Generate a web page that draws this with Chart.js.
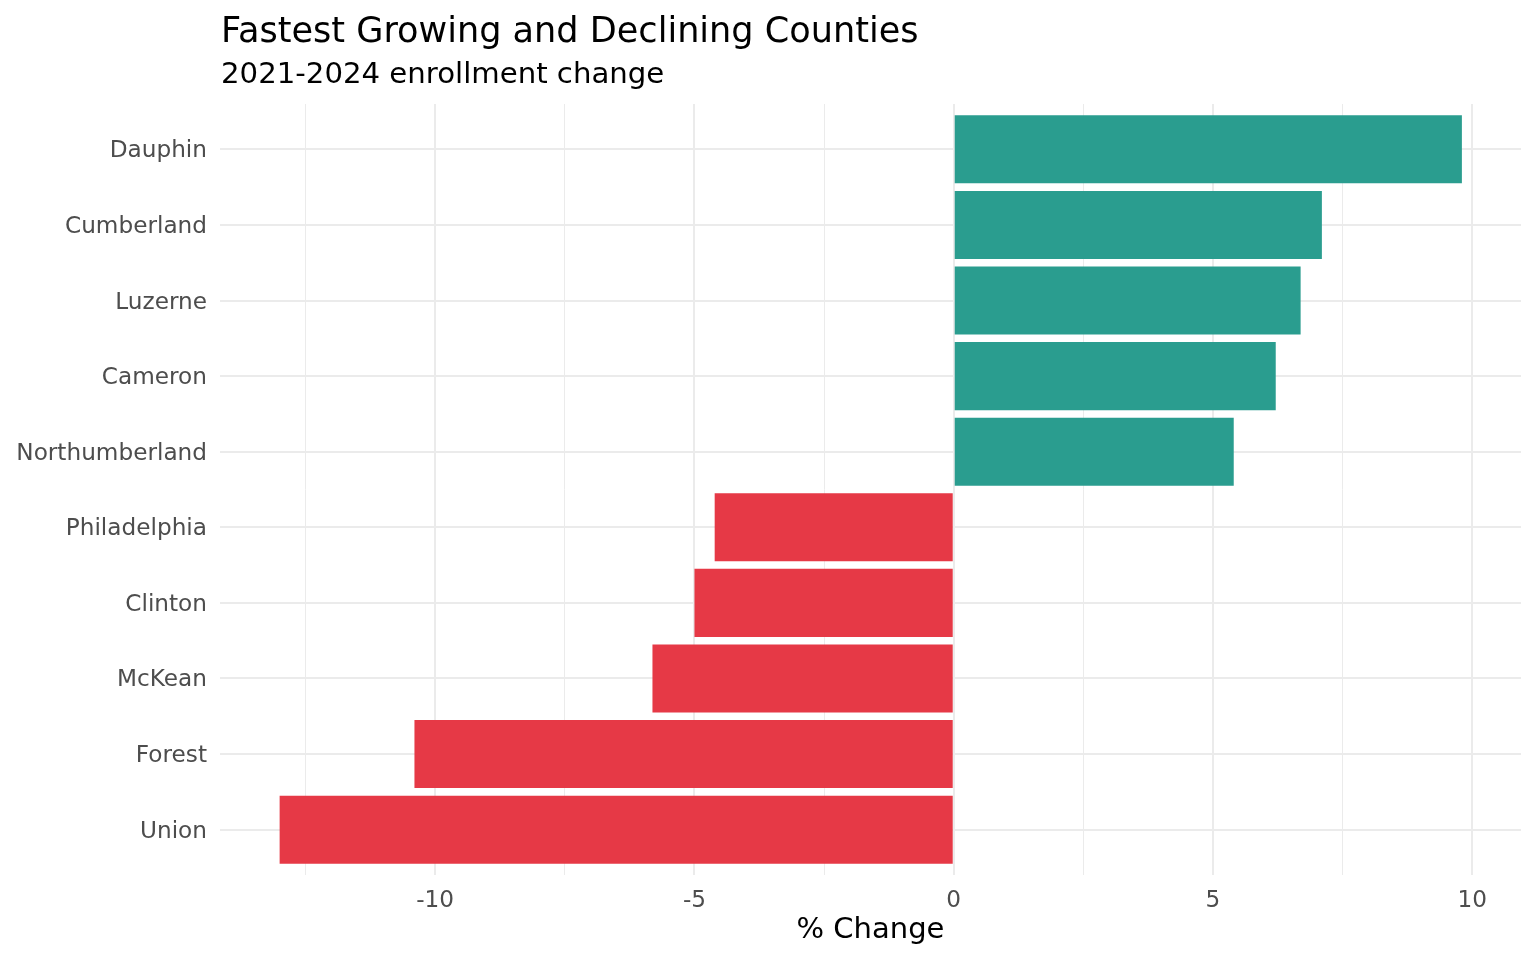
<!DOCTYPE html>
<html>
<head>
<meta charset="utf-8">
<script src="https://cdn.jsdelivr.net/npm/chart.js@4.4.1/dist/chart.umd.min.js"></script>
<style>
  html, body { margin: 0; padding: 0; background: #ffffff; }
  #wrap { width: 1536px; height: 960px; }
</style>
</head>
<body>
<div id="wrap"><canvas id="c" width="1536" height="960"></canvas></div>
<script>
// ---- data ----
const counties = ["Dauphin", "Cumberland", "Luzerne", "Cameron", "Northumberland",
                  "Philadelphia", "Clinton", "McKean", "Forest", "Union"];
const pctChange = [9.80, 7.10, 6.69, 6.21, 5.40, -4.61, -5.00, -5.81, -10.40, -13.00];
const xTickValues = [-12.5, -10, -7.5, -5, -2.5, 0, 2.5, 5, 7.5, 10];
const xLabelValues = [-10, -5, 0, 5, 10];
const titleText = "Fastest Growing and Declining Counties";
const subtitleText = "2021-2024 enrollment change";
const xAxisTitle = "% Change";

const FONT = "'DejaVu Sans', 'Noto Sans', sans-serif";
const GROW = "#2a9d8f", DECLINE = "#e63946", GRID = "#ebebeb";

const titlePlugin = {
  id: 'ggTitle',
  afterDraw(chart) {
    const ctx = chart.ctx, left = chart.chartArea.left;
    ctx.save();
    ctx.fillStyle = '#000000';
    ctx.textAlign = 'left';
    ctx.textBaseline = 'alphabetic';
    ctx.font = "35.1px " + FONT;
    ctx.fillText(titleText, left + 1, 42);
    ctx.font = "29.2px " + FONT;
    ctx.fillText(subtitleText, left + 1, 83);
    ctx.restore();
  }
};

new Chart(document.getElementById('c'), {
  type: 'bar',
  data: {
    datasets: [{
      data: counties.map((name, i) => ({ x: pctChange[i], y: i })),
      backgroundColor: pctChange.map(v => v >= 0 ? GROW : DECLINE),
      borderWidth: 0,
      barPercentage: 0.9,
      categoryPercentage: 1.0
    }]
  },
  options: {
    indexAxis: 'y',
    responsive: false,
    animation: false,
    devicePixelRatio: 1,
    layout: { padding: { left: 0, top: 104, right: 15, bottom: 0 } },
    plugins: { legend: { display: false }, tooltip: { enabled: false }, title: { display: false } },
    scales: {
      x: {
        type: 'linear',
        min: -14.15,
        max: 10.94,
        afterBuildTicks(scale) { scale.ticks = xTickValues.map(v => ({ value: v })); },
        afterFit(scale) { scale.height = 85; },
        border: { display: false },
        grid: {
          color: GRID,
          drawTicks: false,
          lineWidth: (c) => (c.tick && xLabelValues.includes(c.tick.value)) ? 2 : 1
        },
        ticks: {
          autoSkip: false,
          maxRotation: 0,
          padding: 12,
          color: '#4d4d4d',
          font: { family: FONT, size: 23.2 },
          callback: (v) => xLabelValues.includes(v) ? String(v) : ''
        },
        title: {
          display: true,
          text: xAxisTitle,
          color: '#000000',
          font: { family: FONT, size: 29 },
          padding: { top: 0, bottom: 12 }
        }
      },
      y: {
        type: 'linear',
        min: -0.6,
        max: 9.6,
        reverse: true,
        offset: false,
        afterBuildTicks(scale) { scale.ticks = counties.map((n, i) => ({ value: i })); },
        afterFit(scale) { scale.width = 220; },
        border: { display: false },
        grid: { color: GRID, drawTicks: false, lineWidth: 2, offset: false },
        ticks: {
          autoSkip: false,
          padding: 13,
          labelOffset: 2,
          color: '#4d4d4d',
          font: { family: FONT, size: 23.2 },
          callback: (v) => counties[v] !== undefined ? counties[v] : ''
        }
      }
    }
  },
  plugins: [titlePlugin]
});
</script>
</body>
</html>
